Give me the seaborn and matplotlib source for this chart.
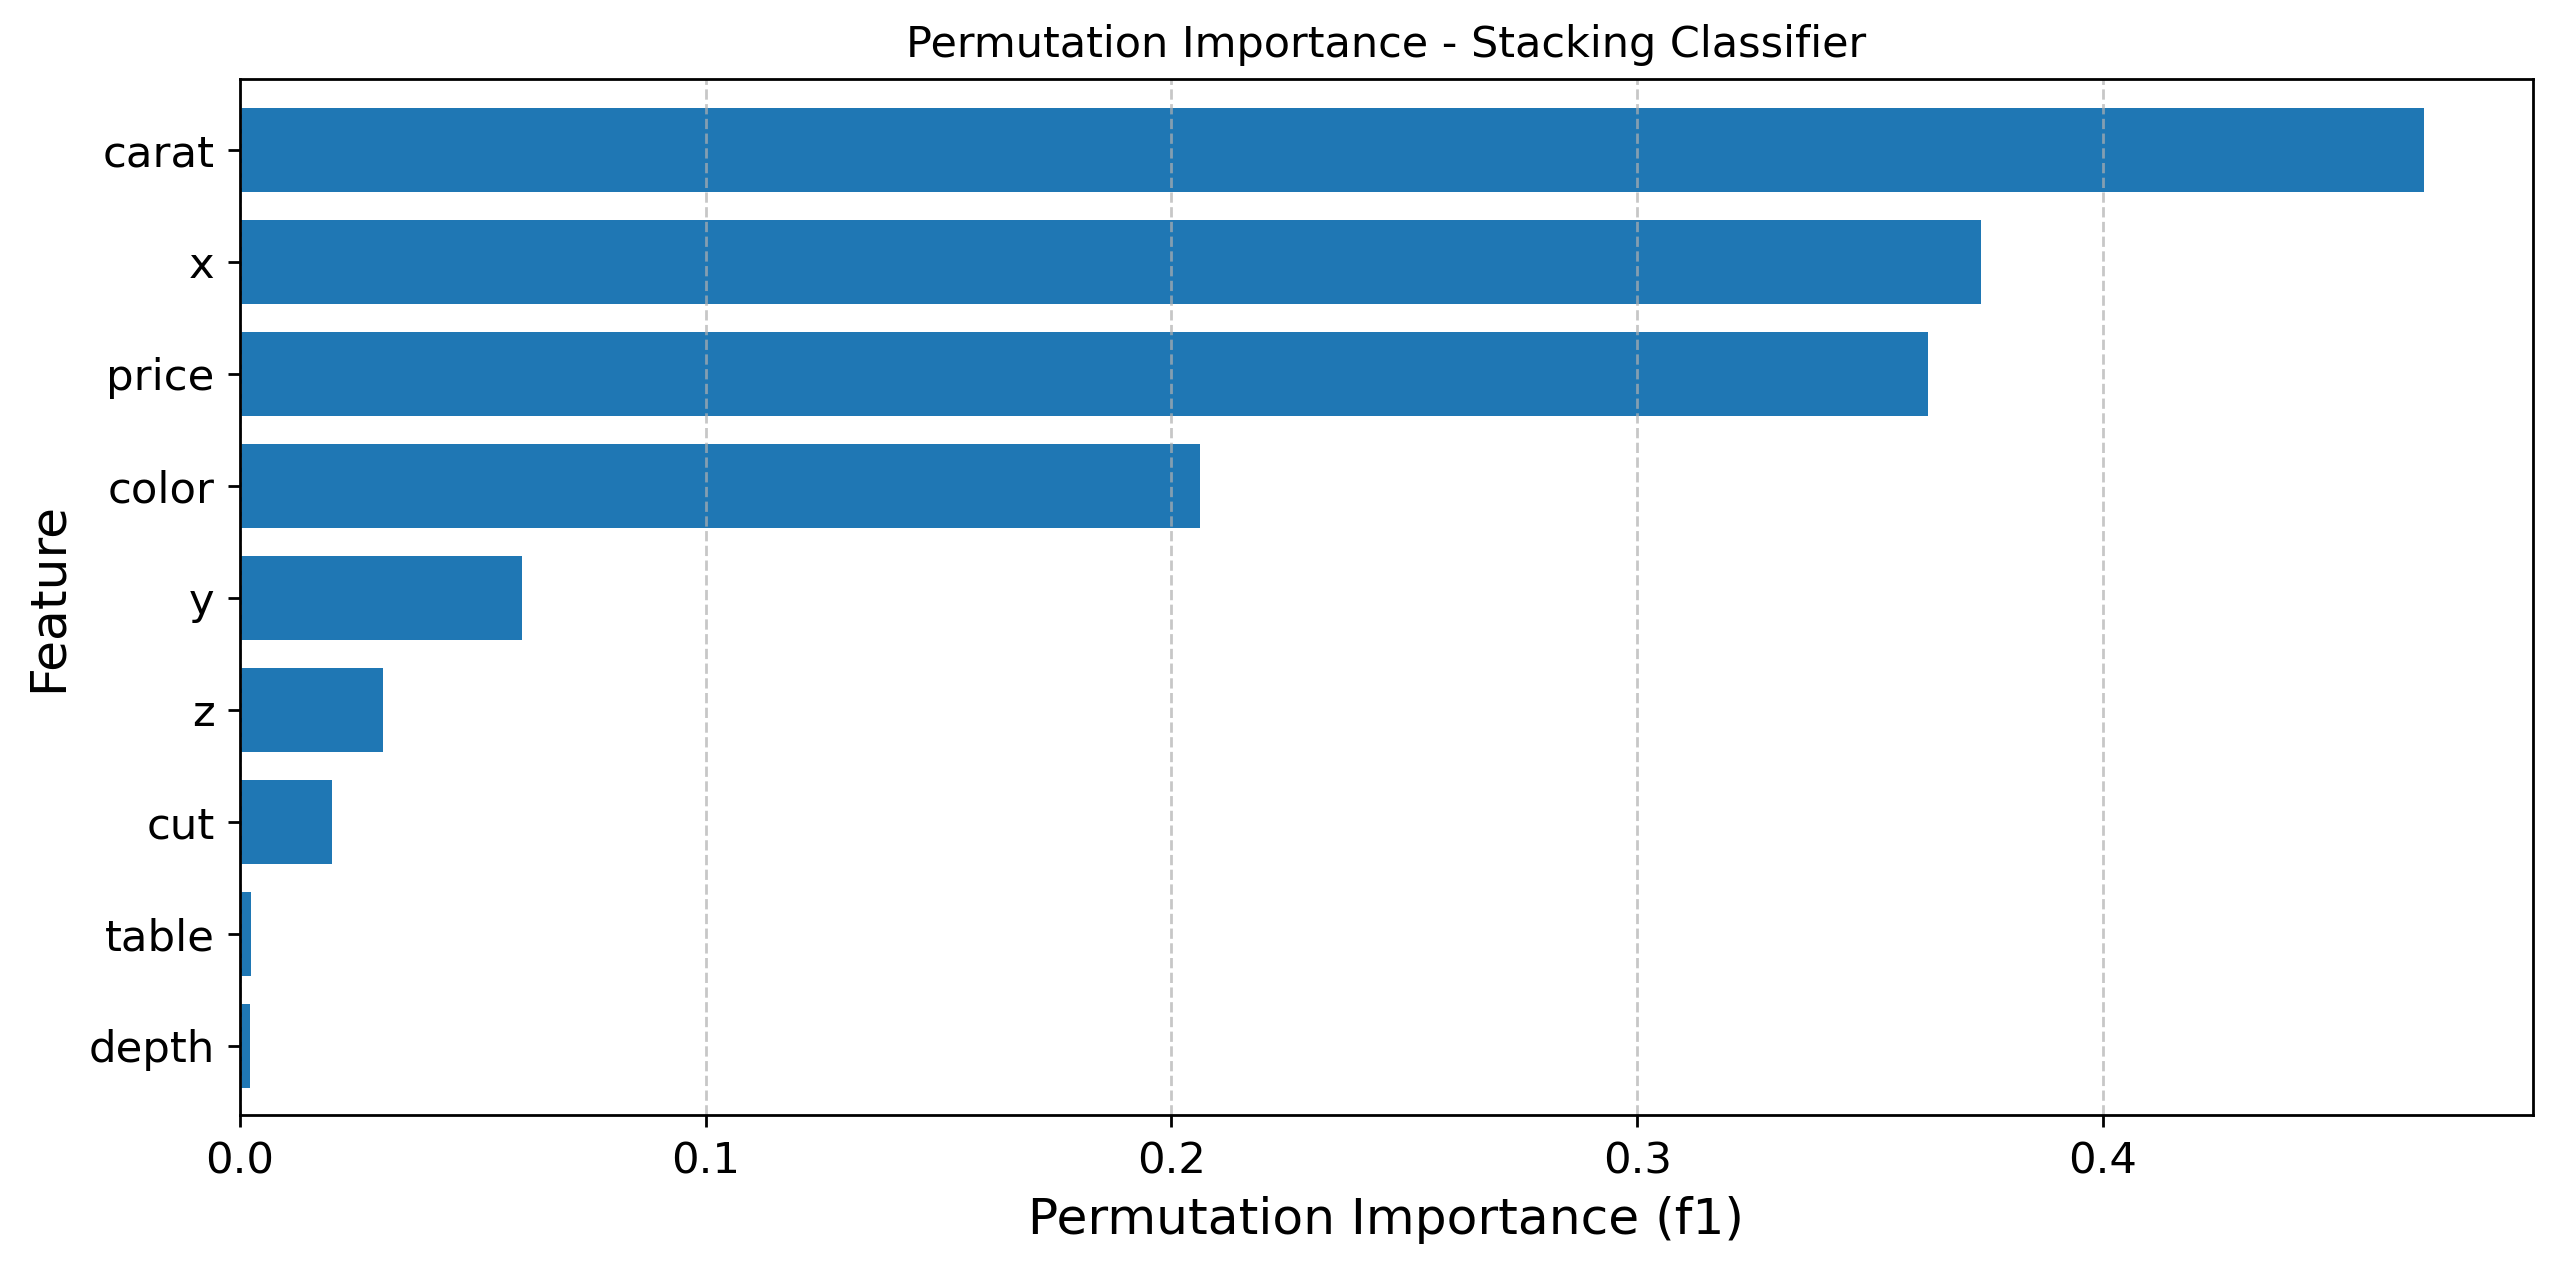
import matplotlib
matplotlib.use("Agg")
import matplotlib.pyplot as plt
import seaborn as sns
import pandas as pd

features = ["carat", "x", "price", "color", "y", "z", "cut", "table", "depth"]
importances = [0.4689, 0.3738, 0.3624, 0.2062, 0.0605, 0.0306, 0.0198, 0.0024, 0.0021]
x_ticks = [0.0, 0.1, 0.2, 0.3, 0.4]

df = pd.DataFrame({"Feature": features, "Importance": importances})

plt.rcParams['font.family'] = ['DejaVu Sans']
fig = plt.figure(figsize=(12.8, 6.355), dpi=200)
ax = fig.add_axes([240/2560, 1 - 1115/1271, (2533-240)/2560, (1115-79)/1271])

sns.barplot(data=df, x="Importance", y="Feature", orient="h", color="#1f77b4",
            saturation=1, width=0.75, ax=ax, linewidth=0)

ax.set_xlim(0, max(importances) * 1.05)
ax.set_ylim(len(features) - 1 + 0.62, -0.63)
ax.set_xticks(x_ticks)
ax.set_xticklabels([f"{t:.1f}" for t in x_ticks])

ax.set_axisbelow('line')
ax.grid(axis='x', linestyle='--', color='#b0b0b0', alpha=0.7, linewidth=1.0)
ax.grid(axis='y', visible=False)

for s in ax.spines.values():
    s.set_linewidth(1.0)
    s.set_color('black')

ax.tick_params(axis='both', labelsize=15.6, length=4.4, width=1.0, pad=4.7, colors='black')
ax.set_title("Permutation Importance - Stacking Classifier", fontsize=15.5, pad=8)
ax.set_xlabel("Permutation Importance (f1)", fontsize=18.1, labelpad=5)
ax.set_ylabel("Feature", fontsize=18.1, labelpad=6)

fig.savefig("out.png", dpi=200)
